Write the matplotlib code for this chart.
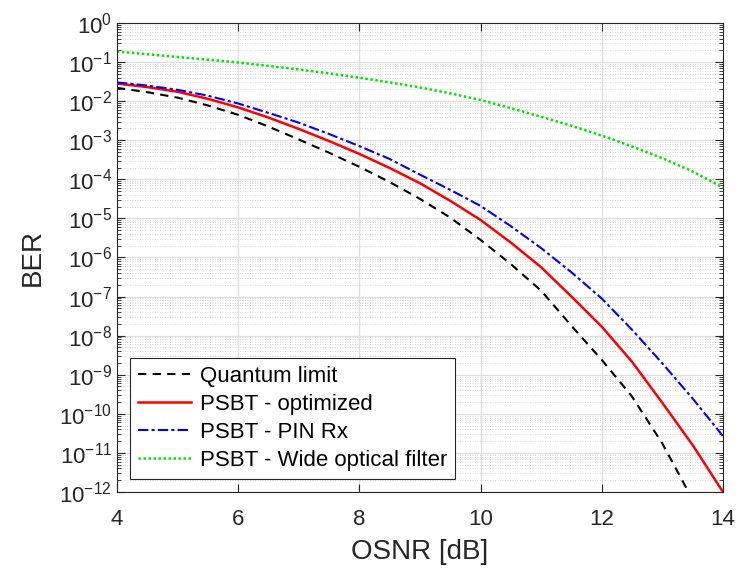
import numpy as np
import matplotlib
matplotlib.use("Agg")
import matplotlib.pyplot as plt
from matplotlib.ticker import LogLocator, NullFormatter

plt.rcParams['font.family'] = ['Liberation Sans', 'DejaVu Sans']
plt.rcParams['mathtext.default'] = 'regular'

# OSNR [dB]
osnr = [4, 4.5, 5, 5.5, 6, 6.5, 7, 7.5, 8, 8.5, 9, 9.5, 10, 10.5, 11, 11.5, 12, 12.5, 13, 13.5, 14]

# log10(BER)
quantum_exp = [-1.66, -1.77, -1.91, -2.11, -2.35, -2.65, -2.98, -3.32, -3.68, -4.07, -4.50, -4.98,
               -5.55, -6.17, -6.85, -7.75, -8.62, -9.56, -10.76, -12.2, -13.8]
optimized_exp = [-1.55, -1.64, -1.76, -1.94, -2.16, -2.42, -2.71, -3.02, -3.35, -3.71, -4.10, -4.55,
                 -5.04, -5.62, -6.25, -7.00, -7.77, -8.67, -9.72, -10.80, -12.0]
pin_exp = [-1.52, -1.60, -1.71, -1.86, -2.06, -2.30, -2.55, -2.84, -3.15, -3.48, -3.88, -4.27,
           -4.68, -5.20, -5.76, -6.38, -7.05, -7.85, -8.71, -9.61, -10.57]
wide_exp = [-0.73, -0.80, -0.87, -0.94, -1.01, -1.10, -1.19, -1.29, -1.40, -1.52, -1.65, -1.80,
            -1.97, -2.18, -2.40, -2.63, -2.88, -3.16, -3.46, -3.80, -4.21]

labels = ['Quantum limit', 'PSBT - optimized', 'PSBT - PIN Rx', 'PSBT - Wide optical filter']
xticks = [4, 6, 8, 10, 12, 14]
ytick_exps = list(range(0, -13, -1))

fig = plt.figure(figsize=(7.4, 5.73), dpi=100)
ax = fig.add_axes([0.158, 0.1414, 0.819, 0.8185])

x = np.array(osnr)
ax.semilogy(x, 10.0 ** np.array(quantum_exp), color='k', ls=(0, (4, 3)), lw=1.5, label=labels[0])
ax.semilogy(x, 10.0 ** np.array(optimized_exp), color=(1, 0, 0), ls='-', lw=1.8, label=labels[1])
ax.semilogy(x, 10.0 ** np.array(pin_exp), color=(0, 0, 1), ls=(0, (5, 1.5, 1.5, 1.5)), lw=1.5, label=labels[2])
ax.semilogy(x, 10.0 ** np.array(wide_exp), color=(0, 0.9, 0), ls=(0, (1, 1)), lw=1.8, label=labels[3])

ax.set_xlim(4, 14)
ax.set_ylim(1e-12, 1)
ax.set_xticks(xticks)
ax.set_yticks([10.0 ** e for e in ytick_exps])
ax.yaxis.set_minor_locator(LogLocator(base=10, subs=np.arange(2, 10), numticks=100))
ax.yaxis.set_minor_formatter(NullFormatter())

axc = (0.15, 0.15, 0.15)
for s in ax.spines.values():
    s.set_color(axc)
    s.set_linewidth(0.8)
ax.tick_params(which='both', direction='in', top=True, right=True, colors=axc, labelcolor=axc)
ax.tick_params(which='major', length=6, labelsize=16)
ax.tick_params(which='minor', length=3)
ax.tick_params(axis='x', pad=12)

ax.grid(True, which='major', color=(0.87, 0.87, 0.87), lw=0.9, ls='-')
ax.grid(True, which='minor', axis='y', color=(0.8, 0.8, 0.8), lw=0.6, ls=(0, (1, 2)))
ax.set_axisbelow(True)

ax.set_xlabel('OSNR [dB]', fontsize=20, color=axc, labelpad=7)
ax.set_ylabel('BER', fontsize=20, color=axc, labelpad=10)

leg = ax.legend(loc='lower left', fontsize=16, frameon=True, fancybox=False, framealpha=1,
                edgecolor=axc, handlelength=2.4, handletextpad=0.4,
                borderpad=0.35, labelspacing=0.32, borderaxespad=0.6)
leg.get_frame().set_linewidth(0.8)

fig.savefig('out.png', dpi=100)
